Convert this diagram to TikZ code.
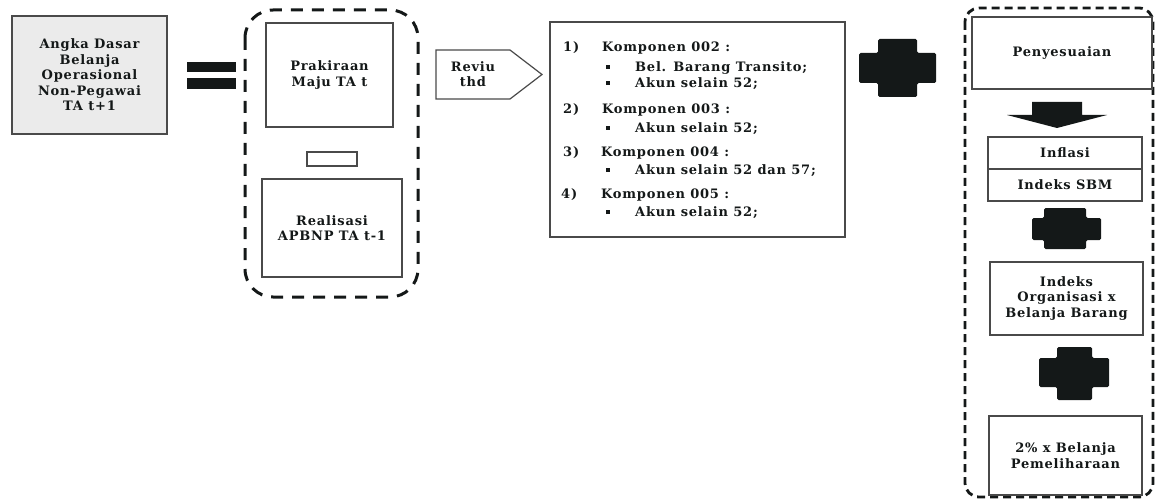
\documentclass[tikz,border=0pt]{standalone}
\usepackage{fontspec}
\setmainfont{DejaVu Serif}[LetterSpace=6]
\newcommand\lbl{\fontsize{13}{15.5}\selectfont\bfseries}
\newcommand\bul{\makebox[29pt][l]{\raisebox{2.5pt}{\rule{3.5pt}{3.5pt}}}}
\definecolor{ink}{HTML}{141818}
\definecolor{edge}{HTML}{4a4a4a}
\begin{document}
\begin{tikzpicture}[x=1pt,y=-1pt,
  box/.style={draw=edge, line width=1.2pt, fill=white, inner sep=0pt, align=center, font=\lbl, text=ink},
  txt/.style={anchor=base west, inner sep=0pt, font=\lbl, text=ink},
  plusfill/.style={fill=ink, rounded corners=1.5pt},
  bigdash/.style={draw=ink, line width=3pt, dash pattern=on 12pt off 9pt, rounded corners=28pt},
  smalldash/.style={draw=ink, line width=2.8pt, dash pattern=on 8pt off 5pt, rounded corners=14pt}]
\useasboundingbox (0,0) rectangle (1157,500);

% left box
\node[box, fill=black!8, minimum width=155pt, minimum height=118pt] (lbox) at (89.5,75)
  {Angka Dasar\\Belanja\\Operasional\\Non-Pegawai\\TA t+1};

% equals sign
\fill[ink] (187,62) rectangle (236,72);
\fill[ink] (187,78) rectangle (236,89);

% left dashed container
\draw[bigdash] (245,10) rectangle (418,297);
\node[box, minimum width=127pt, minimum height=104pt] (prak) at (329.5,75) {Prakiraan\\Maju TA t};
\node[box, minimum width=50pt, minimum height=14pt] (minus) at (332,159) {};
\node[box, minimum width=140pt, minimum height=98pt] (real) at (332,228) {Realisasi\\APBNP TA t-1};

% reviu arrow
\draw[draw=edge, line width=1.2pt, fill=white] (436,50) -- (510,50) -- (542,74.5) -- (510,99) -- (436,99) -- cycle;
\node[align=center, font=\lbl, text=ink, inner sep=0pt] (reviu) at (473,74) {Reviu\\thd};

% list box
\node[box, minimum width=295pt, minimum height=215pt] (list) at (697.5,129.5) {};
\node[txt] (n1) at (563,51.5) {1)};
\node[txt] (c1) at (602,51.5) {Komponen 002 :};
\node[txt] (b1a) at (606,71.5) {\bul Bel. Barang Transito;};
\node[txt] (b1b) at (606,87.5) {\bul Akun selain 52;};
\node[txt] (n2) at (563,113.5) {2)};
\node[txt] (c2) at (602,113.5) {Komponen 003 :};
\node[txt] (b2) at (606,132.5) {\bul Akun selain 52;};
\node[txt] (n3) at (563,156.5) {3)};
\node[txt] (c3) at (601,156.5) {Komponen 004 :};
\node[txt] (b3) at (606,174.5) {\bul Akun selain 52 dan 57;};
\node[txt] (n4) at (561,198.5) {4)};
\node[txt] (c4) at (601,198.5) {Komponen 005 :};
\node[txt] (b4) at (606,216.5) {\bul Akun selain 52;};

% big plus
\fill[plusfill] (878,39) -- (917,39) -- (917,53) -- (936,53) -- (936,83) -- (917,83) -- (917,97) -- (878,97) -- (878,83) -- (859,83) -- (859,53) -- (878,53) -- cycle;

% right dashed container
\draw[smalldash] (965,8) rectangle (1153,497);
\node[box, minimum width=180pt, minimum height=72pt] (peny) at (1062,53) {Penyesuaian};

% down arrow
\fill[ink] (1032,102) -- (1082,102) -- (1082,115) -- (1107,115) -- (1057,128) -- (1007,115) -- (1032,115) -- cycle;

\node[box, minimum width=154pt, minimum height=32pt] (infl) at (1065,153) {Inflasi};
\node[box, minimum width=154pt, minimum height=32pt] (sbm) at (1065,185) {Indeks SBM};

% plus 2
\fill[plusfill] (1044,208) -- (1086,208) -- (1086,218) -- (1101,218) -- (1101,240) -- (1086,240) -- (1086,249) -- (1044,249) -- (1044,240) -- (1032,240) -- (1032,218) -- (1044,218) -- cycle;

\node[box, minimum width=153pt, minimum height=73pt] (org) at (1066.5,298.5) {Indeks\\Organisasi x\\Belanja Barang};

% plus 3
\fill[plusfill] (1057,347) -- (1092,347) -- (1092,358) -- (1109,358) -- (1109,387) -- (1092,387) -- (1092,400) -- (1057,400) -- (1057,387) -- (1039,387) -- (1039,358) -- (1057,358) -- cycle;

\node[box, minimum width=153pt, minimum height=79pt] (pem) at (1065.5,455.5) {2\% x Belanja\\Pemeliharaan};
\end{tikzpicture}
\end{document}
